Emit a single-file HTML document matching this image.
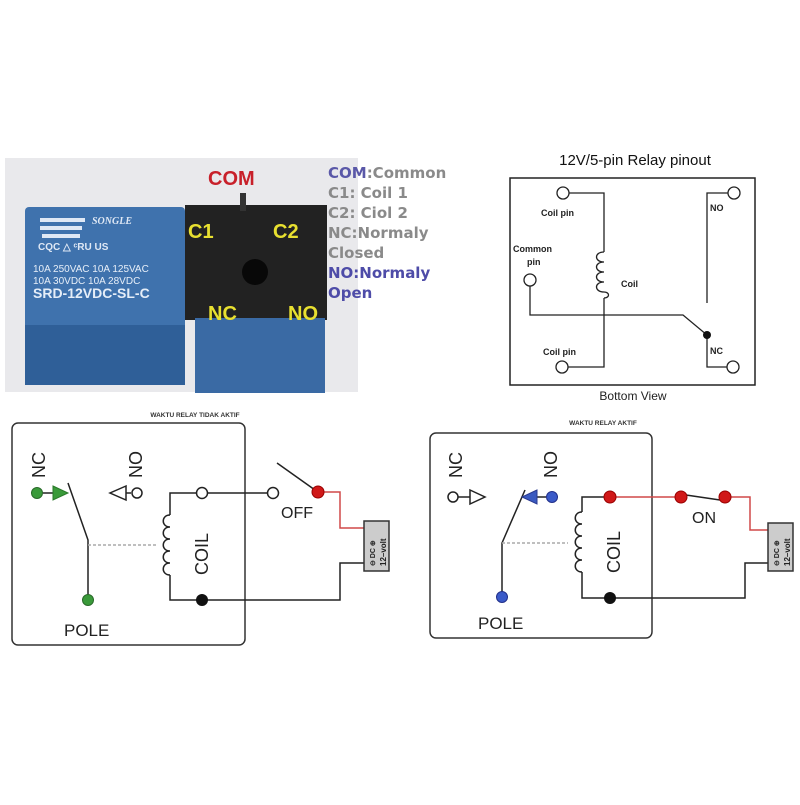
<!DOCTYPE html>
<html><head><style>html,body{margin:0;padding:0;background:#fff}</style></head>
<body>
<svg width="800" height="800" xmlns="http://www.w3.org/2000/svg" font-family="Liberation Sans, sans-serif">
<rect width="800" height="800" fill="#fff"/>
<!-- photo -->
<rect x="5" y="158" width="353" height="234" fill="#e9e9ec"/>
<rect x="25" y="207" width="160" height="178" fill="#3f72ad" rx="4"/>
<rect x="25" y="325" width="160" height="60" fill="#2f5f98"/>
<path d="M40 220h45M40 228h42M42 236h38" stroke="#dfe8f5" stroke-width="4"/>
<text x="92" y="224" font-size="10" font-style="italic" font-weight="bold" fill="#dfe8f5" font-family="Liberation Serif, serif">SONGLE</text>
<text x="38" y="250" font-size="10" fill="#dfe8f5" font-weight="bold">CQC △ ᶜRU US</text>
<text x="33" y="272" font-size="10" fill="#e6eef8">10A 250VAC  10A 125VAC</text>
<text x="33" y="284" font-size="10" fill="#e6eef8">10A  30VDC  10A  28VDC</text>
<text x="33" y="298" font-size="14" fill="#e6eef8" font-weight="bold">SRD-12VDC-SL-C</text>
<rect x="185" y="205" width="142" height="115" fill="#222"/>
<rect x="195" y="318" width="130" height="75" fill="#3a6aa4"/>
<circle cx="255" cy="272" r="13" fill="#080808"/>
<rect x="240" y="193" width="6" height="18" fill="#333"/>
<text x="208" y="185" font-size="20" font-weight="bold" fill="#c8202a">COM</text>
<g font-size="20" font-weight="bold" fill="#e8e030"><text x="188" y="238">C1</text><text x="273" y="238">C2</text><text x="208" y="320">NC</text><text x="288" y="320">NO</text></g>
<g font-size="15" font-weight="bold" font-family="DejaVu Sans, sans-serif" fill="#8a8a8a">
<text x="328" y="178"><tspan fill="#5a58a8">COM</tspan>:Common</text>
<text x="328" y="198">C1:   Coil 1</text>
<text x="328" y="218">C2:   Ciol 2</text>
<text x="328" y="238">NC:Normaly</text>
<text x="328" y="258">Closed</text>
<text x="328" y="278" fill="#4e4ca8">NO:Normaly</text>
<text x="328" y="298" fill="#4e4ca8">Open</text>
</g>
<!-- pinout -->
<text x="635" y="165" font-size="15" text-anchor="middle" fill="#111">12V/5-pin Relay pinout</text>
<rect x="510" y="178" width="245" height="207" fill="none" stroke="#222" stroke-width="1.5"/>
<g fill="none" stroke="#222" stroke-width="1.3">
<path d="M569 193H604V252M604 298V367H568"/>
<path d="M604 252c-10 0-10 10 0 10c-10 0-10 10 0 10c-10 0-10 10 0 10c-10 0-10 10 0 10c6 0 6 6 0 6"/>
<path d="M530 286V315H683L707 335V367H727"/>
<path d="M728 193H707V303"/>
<circle cx="563" cy="193" r="6" fill="#fff"/><circle cx="562" cy="367" r="6" fill="#fff"/>
<circle cx="530" cy="280" r="6" fill="#fff"/><circle cx="734" cy="193" r="6" fill="#fff"/><circle cx="733" cy="367" r="6" fill="#fff"/>
</g>
<circle cx="707" cy="335" r="4" fill="#111"/>
<g font-size="9" font-weight="bold" fill="#222">
<text x="541" y="216">Coil pin</text><text x="513" y="252">Common</text><text x="527" y="265">pin</text>
<text x="621" y="287">Coil</text><text x="710" y="211">NO</text><text x="710" y="354">NC</text><text x="543" y="355">Coil pin</text>
</g>
<text x="633" y="400" font-size="12" text-anchor="middle" fill="#222">Bottom View</text>
<!-- left diagram -->
<text x="195" y="417" font-size="6.5" font-weight="bold" text-anchor="middle" fill="#333">WAKTU RELAY TIDAK AKTIF</text>
<rect x="12" y="423" width="233" height="222" rx="6" fill="none" stroke="#333" stroke-width="1.5"/>
<g fill="none" stroke="#222" stroke-width="1.5">
<path d="M68 483L88 540V600"/>
<path d="M88 545H158" stroke="#aaa" stroke-dasharray="3 2"/>
<path d="M196 493H170V515M170 575V600H340V563H365"/>
<path d="M170 515c-9 0-9 12 0 12c-9 0-9 12 0 12c-9 0-9 12 0 12c-9 0-9 12 0 12c-9 0-9 12 0 12"/>
<path d="M208 493H267"/><path d="M277 463L315 490"/>
<path d="M43 493H55M126 493H131"/>
<path d="M126 486L110 493L126 500Z" fill="#fff"/>
</g>
<path d="M324 492H340V528H365" fill="none" stroke="#d04848" stroke-width="1.5"/>
<path d="M53 486L68 493L53 500Z" fill="#3a9a3a" stroke="#2a7a2a"/>
<circle cx="37" cy="493" r="5.5" fill="#3a9a3a" stroke="#2a6a2a"/>
<circle cx="88" cy="600" r="5.5" fill="#3a9a3a" stroke="#2a6a2a"/>
<circle cx="137" cy="493" r="5" fill="#fff" stroke="#222" stroke-width="1.5"/>
<circle cx="202" cy="493" r="5.5" fill="#fff" stroke="#222" stroke-width="1.5"/>
<circle cx="273" cy="493" r="5.5" fill="#fff" stroke="#222" stroke-width="1.5"/>
<circle cx="202" cy="600" r="6" fill="#111"/>
<circle cx="318" cy="492" r="6" fill="#d01818" stroke="#900"/>
<rect x="364" y="521" width="25" height="50" fill="#ccc" stroke="#333" stroke-width="1.5"/>
<g font-size="18" fill="#222">
<text transform="translate(45,478) rotate(-90)">NC</text>
<text transform="translate(142,478) rotate(-90)">NO</text>
<text transform="translate(208,575) rotate(-90)">COIL</text>
<text x="64" y="636" font-size="17">POLE</text>
<text x="281" y="518" font-size="16">OFF</text>
</g>
<text transform="translate(375,566) rotate(-90)" font-size="7" font-weight="bold" fill="#222">⊖ DC ⊕</text>
<text transform="translate(386,566) rotate(-90)" font-size="8" font-weight="bold" fill="#222">12–volt</text>
<!-- right diagram -->
<text x="603" y="425" font-size="6.5" font-weight="bold" text-anchor="middle" fill="#333">WAKTU RELAY AKTIF</text>
<rect x="430" y="433" width="222" height="205" rx="6" fill="none" stroke="#333" stroke-width="1.5"/>
<g fill="none" stroke="#222" stroke-width="1.5">
<path d="M525 490L502 543V597"/>
<path d="M502 543H568" stroke="#aaa" stroke-dasharray="3 2"/>
<path d="M604 497H582V512M582 572V598H745V563H770"/>
<path d="M582 512c-9 0-9 12 0 12c-9 0-9 12 0 12c-9 0-9 12 0 12c-9 0-9 12 0 12c-9 0-9 12 0 12"/>
<path d="M686 495L720 500"/>
<path d="M458 497H470"/>
<path d="M470 490L485 497L470 504Z" fill="#fff"/>
<path d="M536 497H546"/>
</g>
<path d="M616 497H675M731 497H750V530H770" fill="none" stroke="#d04848" stroke-width="1.5"/>
<path d="M537 490L522 497L537 504Z" fill="#3a5ac0" stroke="#2a3a90"/>
<circle cx="453" cy="497" r="5" fill="#fff" stroke="#222" stroke-width="1.5"/>
<circle cx="552" cy="497" r="5.5" fill="#3a5ac8" stroke="#22308a"/>
<circle cx="502" cy="597" r="5.5" fill="#3a5ac8" stroke="#22308a"/>
<circle cx="610" cy="497" r="6" fill="#d01818" stroke="#900"/>
<circle cx="681" cy="497" r="6" fill="#d01818" stroke="#900"/>
<circle cx="725" cy="497" r="6" fill="#d01818" stroke="#900"/>
<circle cx="610" cy="598" r="6" fill="#111"/>
<rect x="768" y="523" width="25" height="48" fill="#ccc" stroke="#333" stroke-width="1.5"/>
<g font-size="18" fill="#222">
<text transform="translate(462,478) rotate(-90)">NC</text>
<text transform="translate(557,478) rotate(-90)">NO</text>
<text transform="translate(620,573) rotate(-90)">COIL</text>
<text x="478" y="629" font-size="17">POLE</text>
<text x="692" y="523" font-size="16">ON</text>
</g>
<text transform="translate(779,566) rotate(-90)" font-size="7" font-weight="bold" fill="#222">⊖ DC ⊕</text>
<text transform="translate(790,566) rotate(-90)" font-size="8" font-weight="bold" fill="#222">12–volt</text>
</svg>
</body></html>
